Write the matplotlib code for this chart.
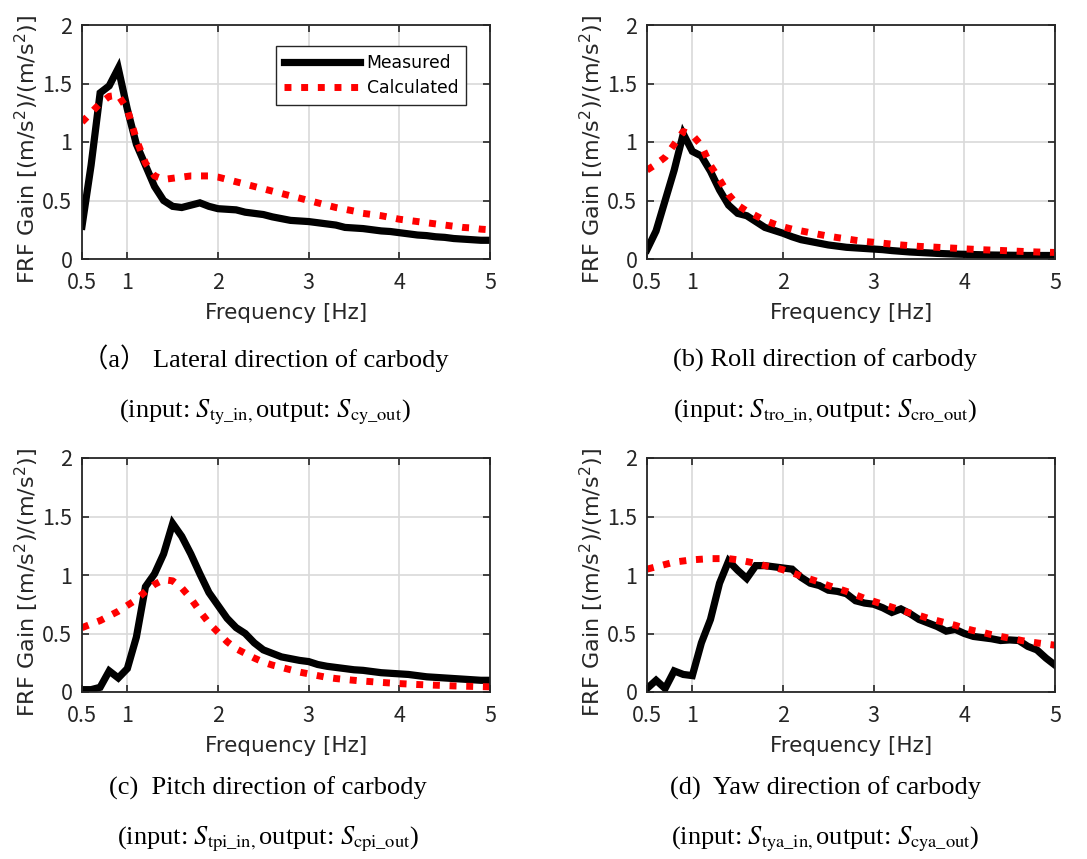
import numpy as np
import matplotlib
matplotlib.use("Agg")
import matplotlib.pyplot as plt

plt.rcParams['font.family'] = ['Noto Sans CJK JP', 'DejaVu Sans']
plt.rcParams['mathtext.fontset'] = 'dejavusans'

# Frequency grid [Hz]
freq = [0.5, 0.6, 0.7, 0.8, 0.9, 1.0, 1.1, 1.2, 1.3, 1.4, 1.5, 1.6, 1.7, 1.8, 1.9,
        2.0, 2.1, 2.2, 2.3, 2.4, 2.5, 2.6, 2.7, 2.8, 2.9, 3.0, 3.1, 3.2, 3.3, 3.4,
        3.5, 3.6, 3.7, 3.8, 3.9, 4.0, 4.1, 4.2, 4.3, 4.4, 4.5, 4.6, 4.7, 4.8, 4.9, 5.0]

# (a) Lateral
lat_meas = [0.28, 0.80, 1.42, 1.48, 1.63, 1.28, 0.98, 0.80, 0.62, 0.50, 0.45, 0.44, 0.46, 0.48, 0.45,
            0.43, 0.425, 0.42, 0.40, 0.39, 0.38, 0.36, 0.345, 0.33, 0.325, 0.32, 0.31, 0.30, 0.29, 0.27,
            0.265, 0.26, 0.25, 0.24, 0.235, 0.225, 0.215, 0.205, 0.20, 0.19, 0.185, 0.175, 0.17, 0.165, 0.16, 0.16]
lat_calc = [1.17, 1.25, 1.33, 1.39, 1.40, 1.28, 1.02, 0.82, 0.71, 0.68, 0.69, 0.70, 0.71, 0.71, 0.71,
            0.70, 0.68, 0.66, 0.64, 0.62, 0.60, 0.58, 0.56, 0.54, 0.52, 0.50, 0.48, 0.46, 0.44, 0.425,
            0.41, 0.39, 0.38, 0.37, 0.355, 0.34, 0.33, 0.32, 0.31, 0.30, 0.29, 0.28, 0.27, 0.265, 0.255, 0.25]

# (b) Roll
roll_meas = [0.08, 0.24, 0.50, 0.76, 1.07, 0.92, 0.88, 0.75, 0.59, 0.46, 0.39, 0.37, 0.32, 0.27, 0.245,
             0.22, 0.19, 0.165, 0.15, 0.135, 0.12, 0.11, 0.10, 0.095, 0.09, 0.085, 0.08, 0.072, 0.066, 0.06,
             0.056, 0.052, 0.048, 0.045, 0.042, 0.04, 0.038, 0.036, 0.034, 0.033, 0.032, 0.031, 0.03, 0.03, 0.03, 0.03]
roll_calc = [0.76, 0.81, 0.87, 0.98, 1.09, 1.06, 0.97, 0.80, 0.68, 0.55, 0.46, 0.41, 0.37, 0.33, 0.30,
             0.275, 0.255, 0.24, 0.225, 0.21, 0.195, 0.183, 0.172, 0.16, 0.15, 0.143, 0.135, 0.127, 0.12, 0.114,
             0.108, 0.104, 0.10, 0.096, 0.092, 0.087, 0.083, 0.079, 0.076, 0.073, 0.07, 0.066, 0.063, 0.06, 0.058, 0.056]

# (c) Pitch
pitch_meas = [0.02, 0.02, 0.04, 0.18, 0.12, 0.20, 0.47, 0.90, 1.01, 1.18, 1.44, 1.33, 1.18, 1.01, 0.85,
              0.74, 0.63, 0.55, 0.50, 0.42, 0.36, 0.33, 0.30, 0.285, 0.27, 0.26, 0.235, 0.22, 0.21, 0.20,
              0.19, 0.185, 0.175, 0.165, 0.16, 0.155, 0.15, 0.14, 0.13, 0.125, 0.12, 0.115, 0.11, 0.105, 0.10, 0.10]
pitch_calc = [0.55, 0.58, 0.61, 0.65, 0.69, 0.74, 0.79, 0.86, 0.92, 0.96, 0.95, 0.89, 0.80, 0.69, 0.59,
              0.51, 0.43, 0.37, 0.33, 0.29, 0.255, 0.23, 0.21, 0.19, 0.17, 0.155, 0.14, 0.125, 0.115, 0.107,
              0.10, 0.093, 0.088, 0.082, 0.077, 0.072, 0.068, 0.064, 0.061, 0.058, 0.055, 0.052, 0.05, 0.048, 0.046, 0.044]

# (d) Yaw
yaw_meas = [0.03, 0.10, 0.03, 0.18, 0.15, 0.14, 0.42, 0.62, 0.93, 1.12, 1.04, 0.97, 1.08, 1.08, 1.07,
            1.06, 1.05, 0.98, 0.93, 0.91, 0.87, 0.86, 0.84, 0.78, 0.76, 0.75, 0.72, 0.68, 0.71, 0.67,
            0.62, 0.59, 0.56, 0.52, 0.535, 0.50, 0.475, 0.465, 0.455, 0.44, 0.445, 0.44, 0.39, 0.36, 0.29, 0.23]
yaw_calc = [1.05, 1.07, 1.09, 1.11, 1.12, 1.13, 1.135, 1.14, 1.14, 1.14, 1.13, 1.115, 1.10, 1.08, 1.065,
            1.045, 1.02, 0.99, 0.965, 0.94, 0.91, 0.885, 0.86, 0.83, 0.80, 0.775, 0.75, 0.725, 0.70, 0.675,
            0.655, 0.63, 0.61, 0.59, 0.57, 0.545, 0.525, 0.51, 0.49, 0.475, 0.46, 0.445, 0.43, 0.42, 0.41, 0.40]

x_ticks = [0.5, 1, 2, 3, 4, 5]
x_ticklabels = ['0.5', '1', '2', '3', '4', '5']
y_ticks = [0, 0.5, 1, 1.5, 2]
y_ticklabels = ['0', '0.5', '1', '1.5', '2']

captions = [
    ('（a） Lateral direction of carbody', r'(input: $S_{\mathrm{ty\_in,}}$output: $S_{\mathrm{cy\_out}}$)'),
    ('(b) Roll direction of carbody', r'(input: $S_{\mathrm{tro\_in,}}$output: $S_{\mathrm{cro\_out}}$)'),
    ('(c)  Pitch direction of carbody', r'(input: $S_{\mathrm{tpi\_in,}}$output: $S_{\mathrm{cpi\_out}}$)'),
    ('(d)  Yaw direction of carbody', r'(input: $S_{\mathrm{tya\_in,}}$output: $S_{\mathrm{cya\_out}}$)'),
]
panels = [(lat_meas, lat_calc), (roll_meas, roll_calc), (pitch_meas, pitch_calc), (yaw_meas, yaw_calc)]

W, H = 1087, 859
fig = plt.figure(figsize=(W / 100, H / 100), dpi=100)

# axes boxes in pixels: left, top, right, bottom
boxes = [(82, 25, 490, 259), (647, 25, 1055, 259), (82, 458, 490, 692), (647, 458, 1055, 692)]
cap_x = [265, 825, 268, 825]
cap_base = [(367, 417), (367, 417), (795, 844), (795, 844)]

serif = ['Liberation Serif', 'Noto Sans CJK JP']
sans = ['DejaVu Sans']
ink = '#262626'

for i, ((meas, calc), box, cap) in enumerate(zip(panels, boxes, captions)):
    l, t, r, b = box
    ax = fig.add_axes([l / W, 1 - b / H, (r - l) / W, (b - t) / H])
    ax.grid(True, color='#d9d9d9', linewidth=1.2)
    ax.set_axisbelow(True)
    ax.plot(freq, meas, color='black', linewidth=5.2, solid_joinstyle='miter', label='Measured')
    ax.plot(freq, calc, color='#ff0000', linewidth=5, linestyle=(0, (1, 1.4)),
            dash_capstyle='butt', label='Calculated')
    ax.set_xlim(0.5, 5)
    ax.set_ylim(0, 2)
    ax.set_xticks(x_ticks)
    ax.set_xticklabels(x_ticklabels)
    ax.set_yticks(y_ticks)
    ax.set_yticklabels(y_ticklabels)
    ax.tick_params(direction='in', top=True, right=True, length=5, width=1.2,
                   labelsize=15.5, colors=ink)
    ax.tick_params(axis='x', pad=9.5)
    ax.tick_params(axis='y', pad=7)
    for s in ax.spines.values():
        s.set_linewidth(1.3)
        s.set_color(ink)
    ax.set_xlabel('Frequency [Hz]', fontsize=15.5, color=ink, family=sans, va='center')
    ax.xaxis.set_label_coords(0.5, -0.231)
    ax.set_ylabel(r'FRF Gain [(m/s$^2$)/(m/s$^2$)]', fontsize=16, color=ink, family=sans,
                  va='center')
    ax.yaxis.set_label_coords(-0.135, 0.466)
    if i == 0:
        leg = ax.legend(loc='upper right', bbox_to_anchor=(0.962, 0.948),
                        prop={'family': sans, 'size': 12.4},
                        fancybox=False, framealpha=1, edgecolor=ink,
                        handlelength=4.4, borderpad=0.45, labelspacing=0.45, handletextpad=0.4)
        leg.get_frame().set_linewidth(1.0)
    fig.text(cap_x[i] / W, 1 - cap_base[i][0] / H, cap[0], ha='center', va='baseline',
             fontsize=19, family=serif)
    fig.text(cap_x[i] / W, 1 - cap_base[i][1] / H, cap[1], ha='center', va='baseline',
             fontsize=19, family=serif, math_fontfamily='stix')

fig.savefig('out.png', dpi=100)
